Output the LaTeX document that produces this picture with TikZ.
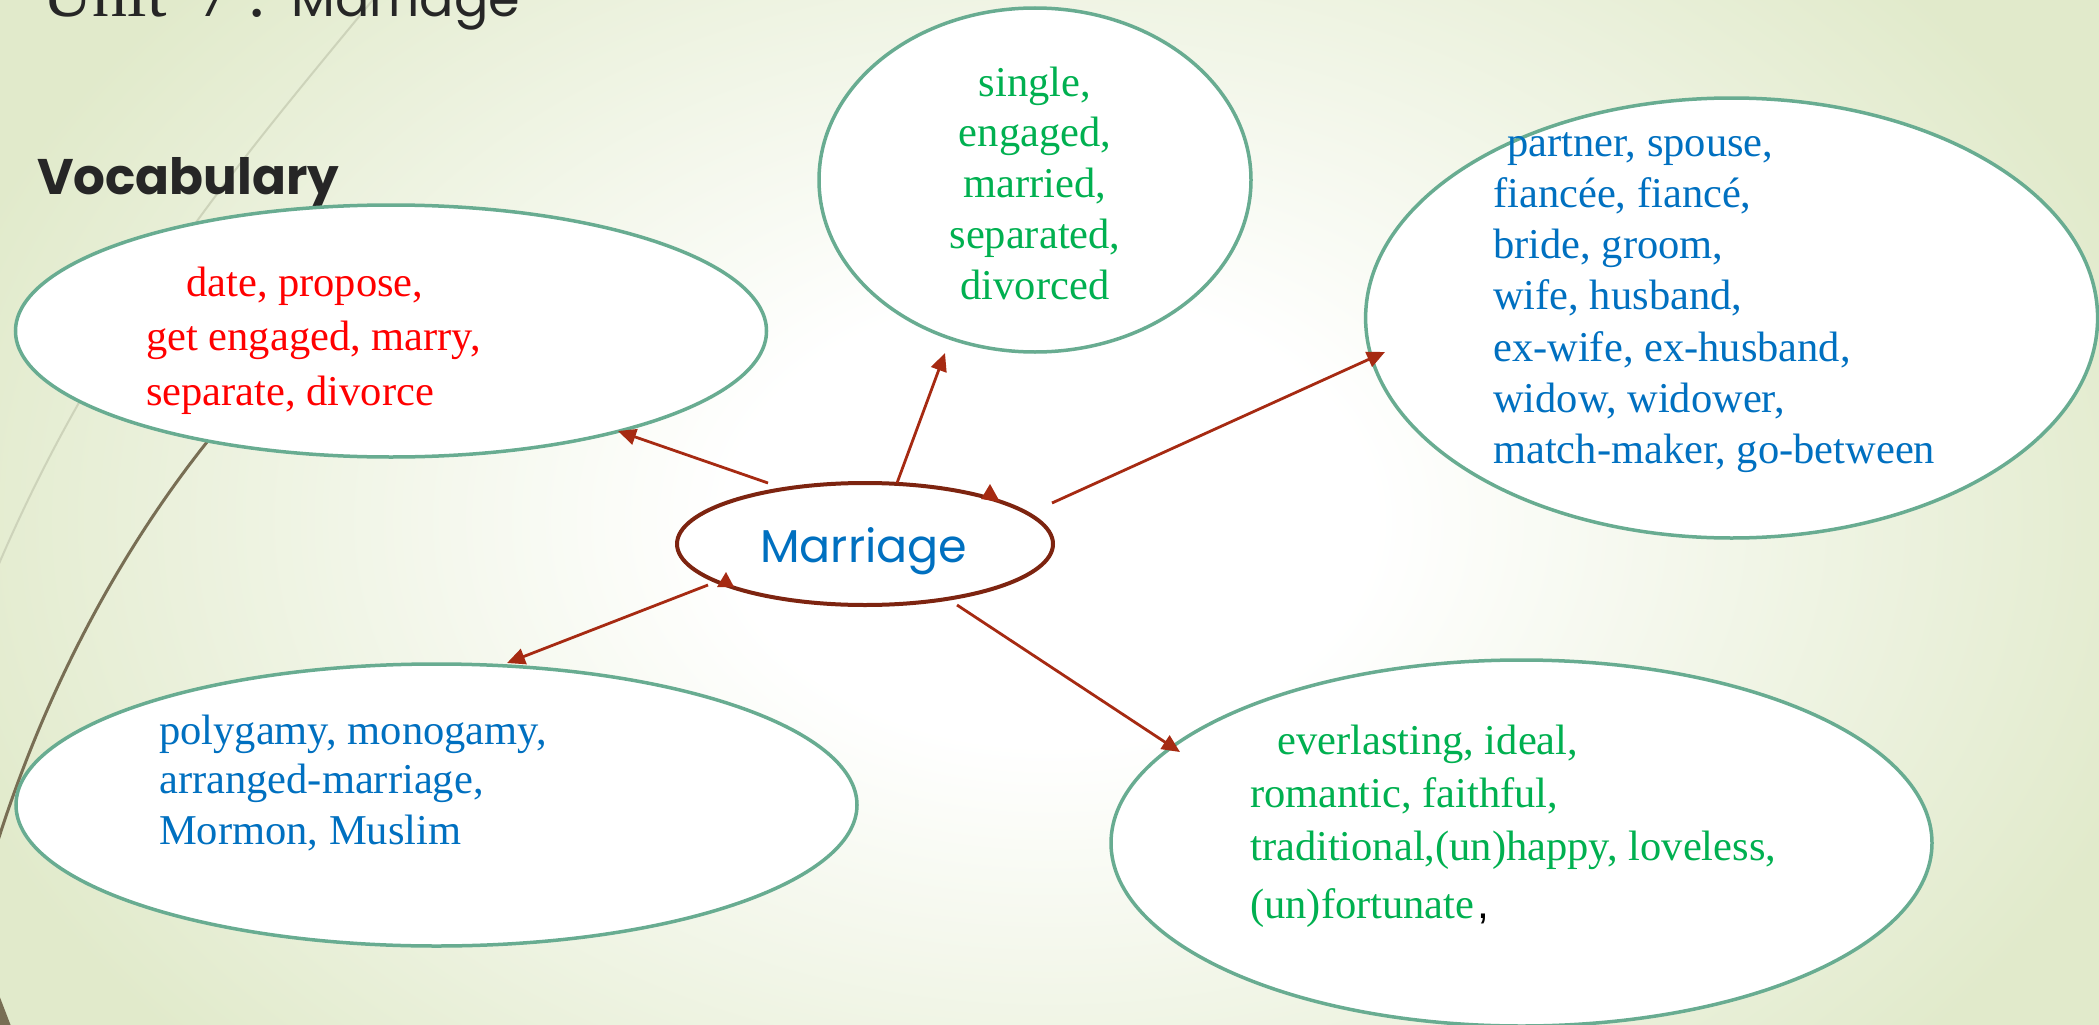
\documentclass[tikz,border=0pt]{standalone}
\usepackage{fontspec}
\setmainfont{Liberation Serif}
\newfontfamily\gothic{Poppins}
\newfontfamily\arialf{Liberation Sans}
\usepackage{graphicx}
\usetikzlibrary{arrows.meta,shapes.geometric}
\definecolor{bgg}{RGB}{225,234,203}
\definecolor{ellc}{RGB}{104,172,145}
\definecolor{arrc}{RGB}{166,42,18}
\definecolor{mbord}{RGB}{125,36,16}
\definecolor{tred}{RGB}{255,0,0}
\definecolor{tgreen}{RGB}{0,176,80}
\definecolor{tblue}{RGB}{0,112,192}
\definecolor{titlec}{RGB}{38,38,38}
\definecolor{curvedark}{RGB}{120,110,84}
\definecolor{curvelight}{RGB}{205,211,186}
\pgfdeclareradialshading{bgrad}{\pgfpoint{0bp}{0bp}}{color(0bp)=(white); color(7bp)=(white); color(25bp)=(bgg); color(50bp)=(bgg)}
\begin{document}
\begin{tikzpicture}[x=1pt,y=-1pt,
  ell/.style={ellipse, draw=ellc, line width=3.5pt, fill=white, inner sep=0pt},
  mell/.style={ellipse, draw=mbord, line width=4pt, fill=white, inner sep=0pt},
  vtxt/.style={anchor=base west, inner sep=0pt, font=\fontsize{42.5}{50}\selectfont},
  ctxt/.style={anchor=base, inner sep=0pt, font=\fontsize{42.5}{50}\selectfont},
  arr/.style={draw=arrc, line width=2.8pt, -{Triangle[length=18pt,width=16pt]}},
  ttl/.style={anchor=base west, inner sep=0pt, text=titlec}]
\useasboundingbox (0,0) rectangle (2099,1025);
\clip (0,0) rectangle (2099,1025);
% background
\fill[bgg] (0,0) rectangle (2099,1025);
\shade[shading=bgrad] (1050,520) ellipse (1150 and 800);
% decorative curves
\draw[curvelight, line width=2pt] (385,-15) .. controls (250,150) and (90,330) .. (-20,610);
\draw[curvedark, line width=3pt] (225,420) .. controls (120,545) and (40,700) .. (-8,860);
\draw[curvedark, line width=10pt] (-14,975) -- (11,1040);
% title
\node[ttl, font=\fontsize{70}{70}\selectfont] (tu) at (42,17) {Unit};
\node[ttl, font=\fontsize{70}{70}\selectfont] (t7) at (197,17) {7};
\node[ttl, font=\fontsize{70}{70}\selectfont] (tc) at (247,17) {:};
\node[ttl] (tm) at (291,17) {\resizebox{229pt}{!}{\gothic Marriage}};
\node[ttl] (voc) at (37,194) {\resizebox{302pt}{!}{\gothic\bfseries Vocabulary}};
% ellipses
\node[ell, minimum width=751pt, minimum height=252pt] (e1) at (391,331) {};
\node[ell, minimum width=432pt, minimum height=344pt] (e2) at (1035,180) {};
\node[ell, minimum width=732pt, minimum height=440pt] (e3) at (1731.6,318) {};
\node[ell, minimum width=841pt, minimum height=282pt] (e5) at (436.5,805) {};
\node[ell, minimum width=821pt, minimum height=366pt] (e6) at (1521.5,843) {};
\node[mell, minimum width=376pt, minimum height=122pt] (m) at (865,544) {};
\node[anchor=base west, inner sep=0pt, text=tblue] (mt) at (760,562) {\resizebox{207pt}{!}{\gothic Marriage}};
% texts: top-left
\node[vtxt, text=tred] (tl1) at (186,296) {date, propose,};
\node[vtxt, text=tred] (tl2) at (146,350) {get engaged, marry,};
\node[vtxt, text=tred] (tl3) at (146,405) {separate, divorce};
% top
\node[ctxt, text=tgreen] (tp1) at (1035,96) {single,};
\node[ctxt, text=tgreen] (tp2) at (1035,146) {engaged,};
\node[ctxt, text=tgreen] (tp3) at (1035,197) {married,};
\node[ctxt, text=tgreen] (tp4) at (1035,248) {separated,};
\node[ctxt, text=tgreen] (tp5) at (1035,299) {divorced};
% right
\node[vtxt, text=tblue] (r1) at (1507,156) {partner, spouse,};
\node[vtxt, text=tblue] (r2) at (1493,207) {fiancée, fiancé,};
\node[vtxt, text=tblue] (r3) at (1493,258) {bride, groom,};
\node[vtxt, text=tblue] (r4) at (1493,309) {wife, husband,};
\node[vtxt, text=tblue] (r5) at (1493,361) {ex-wife, ex-husband,};
\node[vtxt, text=tblue] (r6) at (1493,412) {widow, widower,};
\node[vtxt, text=tblue] (r7) at (1493,463) {match-maker, go-between};
% bottom-left
\node[vtxt, text=tblue] (bl1) at (159,744) {polygamy, monogamy,};
\node[vtxt, text=tblue] (bl2) at (159,793) {arranged-marriage,};
\node[vtxt, text=tblue] (bl3) at (159,844) {Mormon, Muslim};
% bottom-right
\node[vtxt, text=tgreen] (br1) at (1277,754) {everlasting, ideal,};
\node[vtxt, text=tgreen] (br2) at (1250,807) {romantic, faithful,};
\node[vtxt, text=tgreen] (br3) at (1250,860) {traditional,(un)happy, loveless,};
\node[vtxt, text=tgreen] (br4) at (1250,918) {(un)fortunate\hspace{3pt}\textcolor{black}{\arialf ,}};
% arrows
\coordinate (s1) at (768,483); \coordinate (d1) at (618,431);
\coordinate (s2) at (897,483); \coordinate (d2) at (945,353);
\coordinate (s3) at (1052,503); \coordinate (d3) at (1385,352);
\coordinate (s4) at (708,585); \coordinate (d4) at (507,663);
\coordinate (s5) at (957,605); \coordinate (d5) at (1180,752);
\draw[arr] (s1) -- (d1);
\draw[arr] (s2) -- (d2);
\draw[arr] (s3) -- (d3);
\draw[arr] (s4) -- (d4);
\draw[arr] (s5) -- (d5);
% stray arrowheads on the central ellipse
\fill[arrc] (990,484) -- (981,499) -- (1000,502) -- cycle;
\fill[arrc] (726,572) -- (717,587) -- (734,587) -- cycle;
\end{tikzpicture}
\end{document}
